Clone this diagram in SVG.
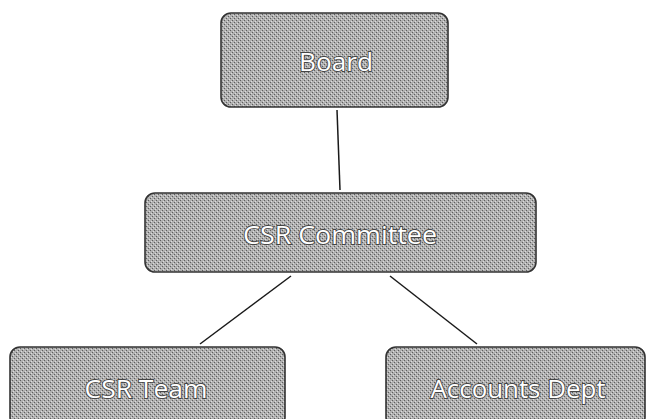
<svg xmlns="http://www.w3.org/2000/svg" width="653" height="419" viewBox="0 0 653 419">
  <defs>
    <pattern id="dither" width="4" height="4" patternUnits="userSpaceOnUse">
      <rect width="4" height="4" fill="#b0b0b0"/>
      <rect x="0" y="0" width="1" height="1" fill="#5e5e5e"/>
      <rect x="2" y="2" width="1" height="1" fill="#5e5e5e"/>
      <rect x="1" y="3" width="1" height="1" fill="#dcdcdc"/>
      <rect x="3" y="1" width="1" height="1" fill="#dcdcdc"/>
    </pattern>
  </defs>
  <style>
    .box { fill: url(#dither); stroke: #333333; stroke-width: 1.6; }
    .lbl { font-family: "Open Sans", "Liberation Sans", sans-serif; font-size: 26px; fill: #ffffff; stroke: #444444; stroke-width: 1.8; paint-order: stroke; text-anchor: middle; dominant-baseline: central; }
    .conn { stroke: #1a1a1a; stroke-width: 1.5; fill: none; }
  </style>
  <rect width="653" height="419" fill="#ffffff"/>
  <g id="connectors">
    <line class="conn" x1="337" y1="110" x2="340" y2="190"/>
    <line class="conn" x1="291" y1="276" x2="200" y2="344"/>
    <line class="conn" x1="390" y1="276" x2="477" y2="344"/>
  </g>
  <g id="board">
    <rect class="box" x="221" y="13" width="227" height="94" rx="10"/>
    <text class="lbl" x="336" y="61" textLength="74" lengthAdjust="spacingAndGlyphs">Board</text>
  </g>
  <g id="csr-committee">
    <rect class="box" x="145" y="193" width="391" height="79" rx="10"/>
    <text class="lbl" x="340" y="234" textLength="194" lengthAdjust="spacingAndGlyphs">CSR Committee</text>
  </g>
  <g id="csr-team">
    <rect class="box" x="10" y="347" width="275" height="80" rx="10"/>
    <text class="lbl" x="146" y="388" textLength="123" lengthAdjust="spacingAndGlyphs">CSR Team</text>
  </g>
  <g id="accounts-dept">
    <rect class="box" x="386" y="347" width="259" height="80" rx="10"/>
    <text class="lbl" x="518" y="388" textLength="175" lengthAdjust="spacingAndGlyphs">Accounts Dept</text>
  </g>
</svg>
